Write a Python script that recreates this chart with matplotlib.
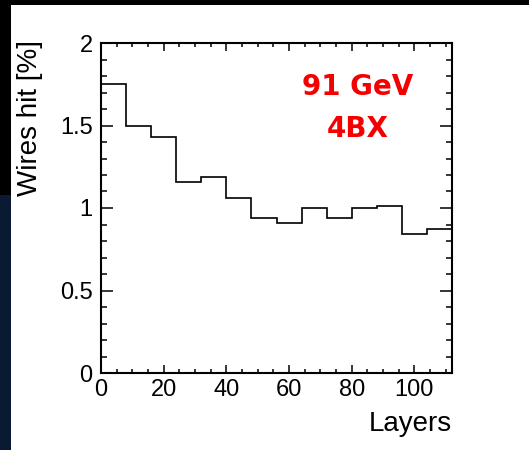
import matplotlib.pyplot as plt
from matplotlib.patches import Rectangle
from matplotlib.ticker import MultipleLocator

plt.rcParams['font.family'] = ['Liberation Sans', 'DejaVu Sans']

# bin edges (layers) and per-bin values
layer_edges = [0, 8, 16, 24, 32, 40, 48, 56, 64, 72, 80, 88, 96, 104, 112]
wires_hit = [1.75, 1.50, 1.43, 1.16, 1.19, 1.06, 0.94, 0.91, 1.00, 0.94, 1.00, 1.01, 0.84, 0.87]

fig = plt.figure(figsize=(5.29, 4.5), dpi=100)
fig.patch.set_facecolor('white')
# slide-ish background: black top band and dark left strip
fig.add_artist(Rectangle((0, 445 / 450), 1, 5 / 450, transform=fig.transFigure,
                         facecolor='black', edgecolor='none', zorder=0))
fig.add_artist(Rectangle((0, 255 / 450), 11 / 529, 195 / 450, transform=fig.transFigure,
                         facecolor='black', edgecolor='none', zorder=0))
fig.add_artist(Rectangle((0, 0), 11 / 529, 255 / 450, transform=fig.transFigure,
                         facecolor='#0b1a33', edgecolor='none', zorder=0))

ax = fig.add_axes([101 / 529, 77 / 450, 351 / 529, 330 / 450])
ax.stairs(wires_hit, layer_edges, color='black', linewidth=1.2)

ax.set_xlim(0, 112)
ax.set_ylim(0, 2)
ax.xaxis.set_major_locator(MultipleLocator(20))
ax.xaxis.set_minor_locator(MultipleLocator(5))
ax.yaxis.set_major_locator(MultipleLocator(0.5))
ax.yaxis.set_minor_locator(MultipleLocator(0.1))
ax.yaxis.set_major_formatter(plt.FuncFormatter(lambda v, p: '%g' % v))
ax.tick_params(which='both', direction='in', top=True, right=True, width=1.1,
               labelsize=17)
ax.tick_params(axis='x', which='major', length=6, pad=4)
ax.tick_params(axis='x', which='minor', length=3)
ax.tick_params(axis='y', which='major', length=8.5, pad=6)
ax.tick_params(axis='y', which='minor', length=4.3)
for s in ax.spines.values():
    s.set_linewidth(1.5)

ax.set_xlabel('Layers', fontsize=20, loc='right')
ax.set_ylabel('Wires hit [%]', fontsize=20, loc='top')
ax.xaxis.set_label_coords(1.0, -0.115)
ax.yaxis.set_label_coords(-0.165, 1.01)

red = '#f50000'
ax.text(0.731, 0.842, '91 GeV', transform=ax.transAxes, color=red,
        fontsize=20, fontweight='bold', family='DejaVu Sans', ha='center', va='baseline')
ax.text(0.731, 0.715, '4BX', transform=ax.transAxes, color=red,
        fontsize=20, fontweight='bold', family='DejaVu Sans', ha='center', va='baseline')

fig.savefig('out.png', dpi=100, facecolor=fig.get_facecolor())
